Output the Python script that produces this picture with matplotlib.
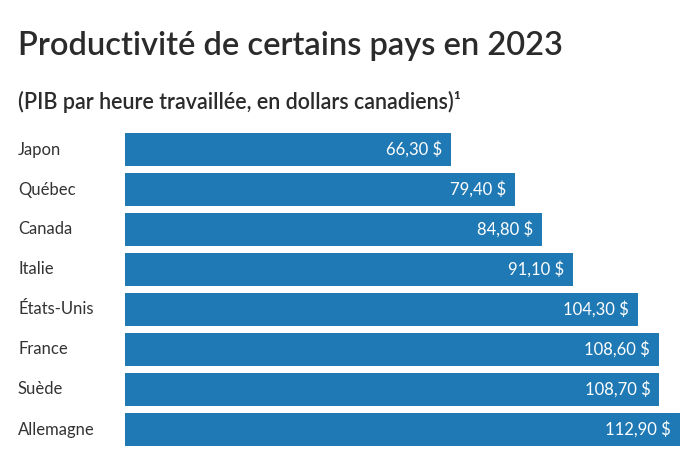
import matplotlib.pyplot as plt

pays = ['Japon', 'Québec', 'Canada', 'Italie', 'États-Unis', 'France', 'Suède', 'Allemagne']
valeurs = [66.30, 79.40, 84.80, 91.10, 104.30, 108.60, 108.70, 112.90]
etiquettes = ['66,30 $', '79,40 $', '84,80 $', '91,10 $', '104,30 $', '108,60 $', '108,70 $', '112,90 $']

plt.rcParams['font.family'] = ['Lato', 'DejaVu Sans']
bleu = '#1f79b5'

fig = plt.figure(figsize=(7, 4.5), dpi=100)
ax = fig.add_axes([125/700, 0.5/450, 565/700, 320/450])

pos = list(range(len(pays)))
ax.barh(pos, valeurs, height=0.825, color=bleu)
for p, v, t in zip(pos, valeurs, etiquettes):
    ax.text(v - 1.8, p, t, color='white', fontsize=12, ha='right', va='center')
    ax.text(-107/4.914, p, pays[p], color='#333333', fontsize=12, ha='left', va='center')

ax.set_xlim(0, 565/4.914)
ax.set_ylim(7.5, -0.5)
ax.axis('off')

fig.text(18/700, 1 - 46/450, 'Productivité de certains pays en 2023', fontsize=23.5,
         fontweight='semibold', color='#2b2b2b', va='center')
fig.text(18/700, 1 - 102/450, '(PIB par heure travaillée, en dollars canadiens)¹', fontsize=15.5,
         fontweight='semibold', color='#2b2b2b', va='center')

fig.savefig('out.png', dpi=100)
